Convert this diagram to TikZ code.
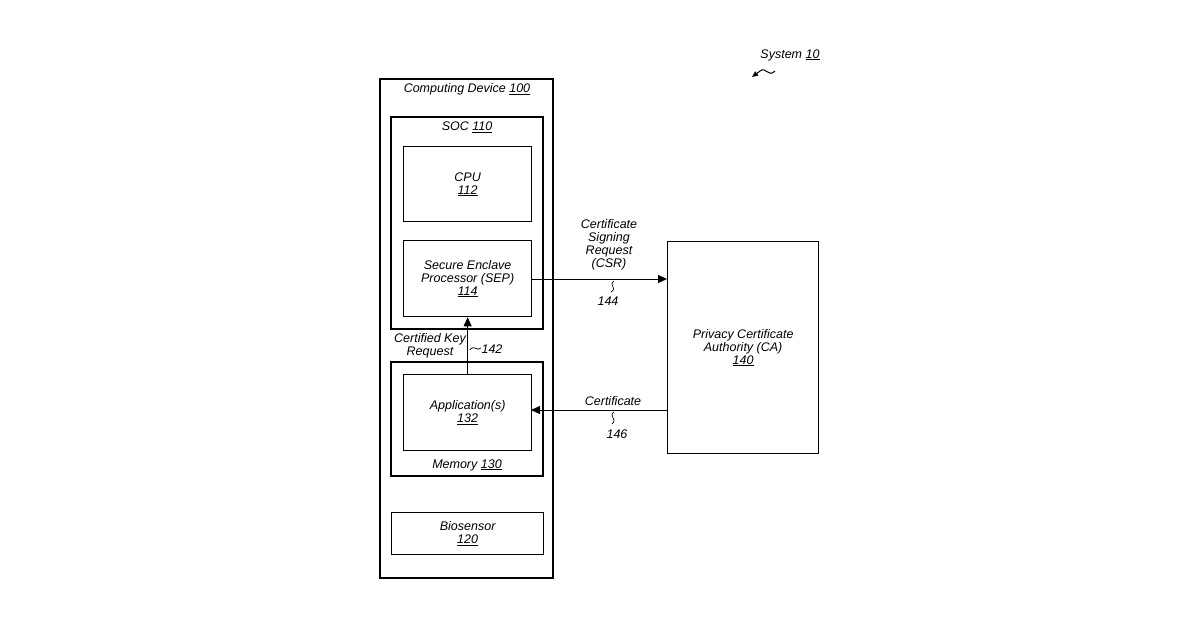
\documentclass[tikz,border=0pt]{standalone}
\usepackage{fontspec}
\setmainfont{Liberation Sans}
\usetikzlibrary{arrows.meta}
\begin{document}
\begin{tikzpicture}[x=1pt,y=-1pt,
  box/.style={draw,line width=1.3pt},
  lbl/.style={font=\itshape\fontsize{12.5}{13}\selectfont,align=center,inner sep=0pt},
  arr/.style={-{Triangle[length=9pt,width=8pt]},line width=0.9pt},
  sq/.style={line width=0.7pt}]
\useasboundingbox (0,0) rectangle (1200,630);
\draw[box] (380,79) rectangle (553,578);
\draw[box] (391,117) rectangle (543,329);
\draw[box] (391,362) rectangle (543,476);
\node[box,minimum width=128pt,minimum height=75pt,anchor=north west] (cpu) at (403,146) {};
\node[box,minimum width=128pt,minimum height=76pt,anchor=north west] (sep) at (403,240) {};
\node[box,minimum width=128pt,minimum height=76pt,anchor=north west] (app) at (403,374) {};
\node[box,minimum width=152pt,minimum height=42pt,anchor=north west] (bio) at (391,512) {};
\node[box,minimum width=151pt,minimum height=212pt,anchor=north west] (ca) at (667,241) {};
\node[lbl] at (467,89) {Computing Device \underline{100}};
\node[lbl] at (467,127) {SOC \underline{110}};
\node[lbl] at (cpu) {CPU\\\underline{112}};
\node[lbl] at (sep) {Secure Enclave\\Processor (SEP)\\\underline{114}};
\node[lbl] at (app) {Application(s)\\\underline{132}};
\node[lbl] at (467,465) {Memory \underline{130}};
\node[lbl] at (bio) {Biosensor\\\underline{120}};
\node[lbl] at (ca) {Privacy Certificate\\Authority (CA)\\\underline{140}};
\node[lbl] at (790,55) {System \underline{10}};
\draw[sq,line width=1pt,-{Triangle[length=6pt,width=5pt]}] (775,71) .. controls (768,78) and (766,66) .. (760,71) -- (752,77);
\coordinate (sepR) at (531,279);
\coordinate (caL) at (667,279);
\draw[arr] (sepR) -- (caL);
\coordinate (caL2) at (667,410);
\coordinate (appR) at (531,410);
\draw[arr] (caL2) -- (appR);
\draw[arr] (app.north) -- (sep.south);
\node[lbl] at (609,245) {Certificate\\Signing\\Request\\(CSR)};
\node[lbl] at (608,301) {144};
\draw[sq] (614,281) .. controls (608,285) and (618,288) .. (611,292);
\node[lbl] at (617,434) {146};
\draw[sq] (614,412) .. controls (608,416) and (618,419) .. (612,424);
\node[lbl] at (613,401) {Certificate};
\node[lbl] at (430,346) {Certified Key\\Request};
\node[lbl] at (492,349) {142};
\draw[sq] (470,350) .. controls (474,344) and (477,352) .. (481,348);
\end{tikzpicture}
\end{document}
